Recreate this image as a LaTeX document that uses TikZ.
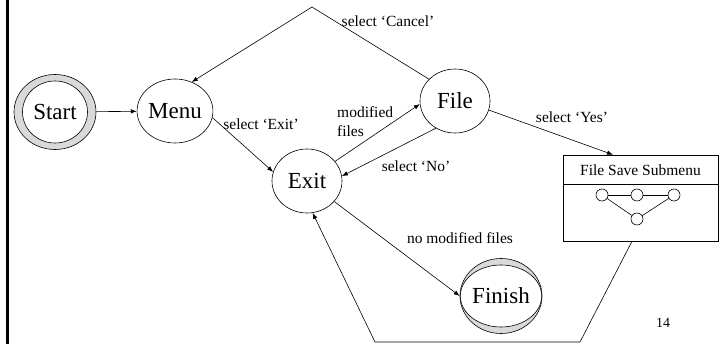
\documentclass[tikz,border=0pt]{standalone}
\usepackage{fontspec}
\setmainfont{Liberation Serif}
\usetikzlibrary{shapes.geometric,arrows.meta}
\begin{document}
\begin{tikzpicture}[x=1pt,y=-1pt,
  state/.style={ellipse,draw,line width=0.6pt,minimum width=70pt,minimum height=64pt,inner sep=0pt,font=\fontsize{23}{27}\selectfont},
  termouter/.style={ellipse,draw,line width=0.6pt,fill=black!15,minimum width=82pt,minimum height=75pt,inner sep=0pt},
  terminner/.style={ellipse,draw,line width=0.6pt,fill=white,minimum width=65pt,minimum height=62pt,inner sep=0pt,font=\fontsize{23}{27}\selectfont},
  mini/.style={circle,draw,line width=0.6pt,minimum size=12pt,inner sep=0pt},
  lbl/.style={font=\fontsize{15.5}{19}\selectfont,inner sep=0pt},
  conn/.style={line width=0.6pt},
  arr/.style={conn,-{Latex[length=6pt,width=4.5pt]}},
]
\useasboundingbox (0,0) rectangle (723,344);
\coordinate (bartop) at (7.5,0);
\coordinate (barbot) at (7.5,344);
\draw[line width=3pt] (bartop) -- (barbot);

% states
\node[termouter] (start) at (55,112) {};
\node[terminner] (startin) at (55,112) {Start};
\node[state] (menu) at (175,111) {Menu};
\node[state] (exit) at (307,181) {Exit};
\node[state] (file) at (455,101) {File};
\node[termouter] (finish) at (501,296) {};
\node[terminner] (finishin) at (501,296) {Finish};

% submenu box
\node[draw,conn,minimum width=155pt,minimum height=86pt,inner sep=0pt] (sub) at (640.5,198) {};
\node[lbl] (subtitle) at (640.5,170) {File Save Submenu};
\coordinate (d1) at (563,184);
\coordinate (d2) at (718,184);
\draw[conn] (d1) -- (d2);
\node[mini] (m1) at (602,195) {};
\node[mini] (m2) at (637,195) {};
\node[mini] (m3) at (674,195) {};
\node[mini] (m4) at (637,219) {};
\draw[conn] (m1) -- (m2) -- (m3);
\draw[conn] (m1) -- (m4) -- (m3);

% helper coordinates
\coordinate (peak) at (312,7);
\coordinate (bl) at (580,342);
\coordinate (br) at (375,342);

% connectors
\draw[arr] (start) -- (menu);
\draw[arr] (file.140) -- (peak) -- (menu.60);
\draw[arr] (menu.-10) -- (exit.165);
\draw[arr] (exit.35) -- (file.185);
\draw[arr] (file.235) -- (exit.8);
\draw[arr] (exit.-37) -- (finish.180);
\draw[arr] (file.-15) -- ([xshift=-27.5pt]sub.north);
\draw[arr] ([xshift=-8.5pt]sub.south) -- (bl) -- (br) -- (exit.-80);

% labels
\node[lbl] (lcancel) at (388,21) {select ‘Cancel’};
\node[lbl] (lexit) at (261,124) {select ‘Exit’};
\node[lbl,align=left,anchor=west] (lmod) at (337,122) {modified\\files};
\node[lbl] (lno) at (416,166) {select ‘No’};
\node[lbl] (lnomod) at (460,238) {no modified files};
\node[lbl] (lyes) at (572,117) {select ‘Yes’};
\node[font=\fontsize{14}{17}\selectfont,inner sep=0pt] (pg) at (663,323) {14};
\end{tikzpicture}
\end{document}
